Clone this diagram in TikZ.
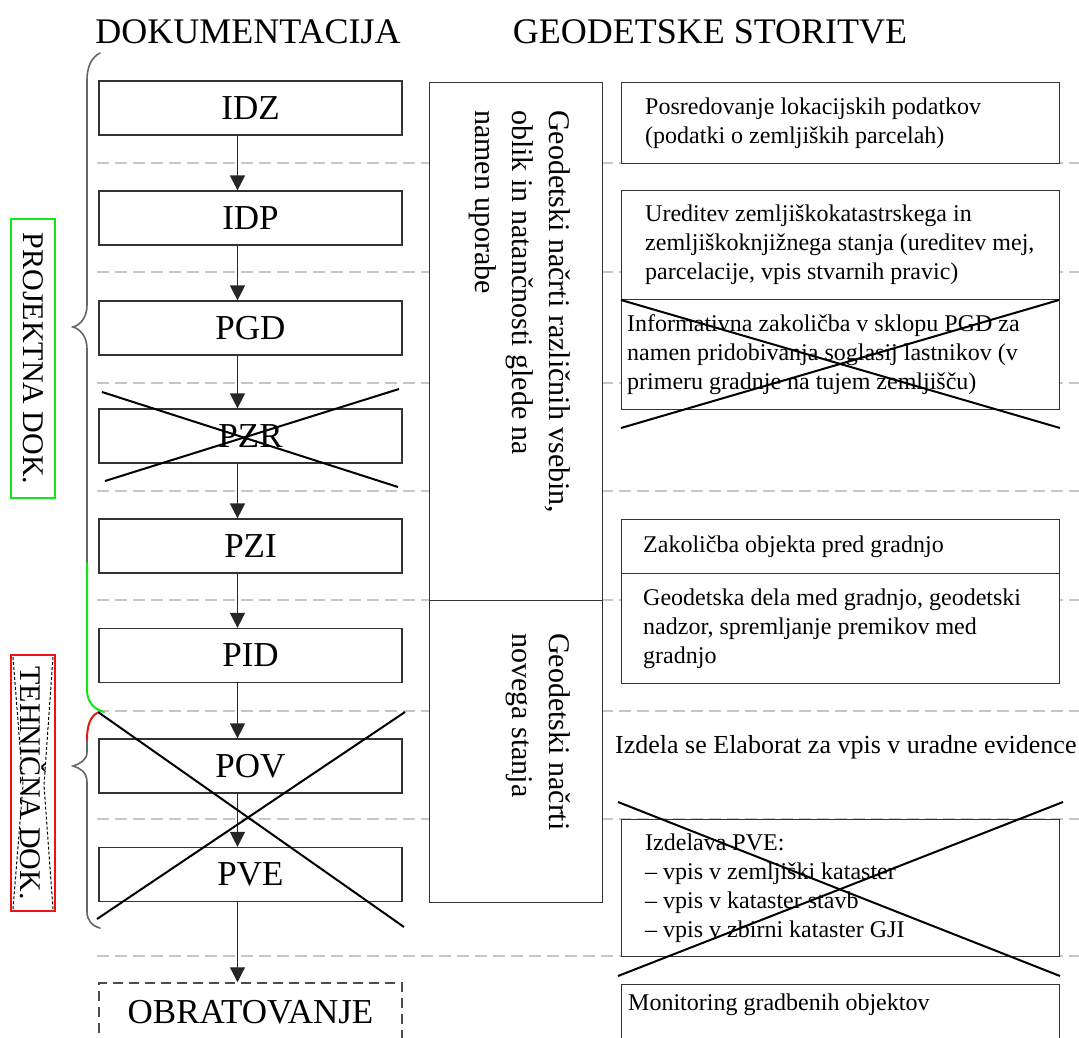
\documentclass[tikz,border=0pt]{standalone}
\usepackage{fontspec}
\setmainfont{Liberation Serif}
\usetikzlibrary{arrows.meta,positioning}
\definecolor{labgreen}{RGB}{20,230,20}
\definecolor{labred}{RGB}{235,20,20}
\newcommand{\stepFont}{\fontsize{35}{40}\selectfont}
\newcommand{\infoFont}{\fontsize{24}{29}\selectfont}
\newcommand{\planFont}{\fontsize{30}{37}\selectfont}

\begin{document}
\begin{tikzpicture}[x=1pt,y=-1pt,
  stepbox/.style={draw=black!80, line width=1.2pt, fill=white, minimum width=303pt, minimum height=54pt, inner sep=0pt, font=\stepFont},
  planbox/.style={draw=black!80, line width=1.2pt, fill=white, minimum width=173pt, inner sep=0pt, anchor=north west},
  infobox/.style={draw=black!80, line width=1.2pt, fill=white, minimum width=438pt, inner sep=0pt, anchor=north west},
  infotext/.style={anchor=west, inner sep=0pt, align=left, font=\infoFont},
  plantext/.style={rotate=-90, anchor=north west, inner sep=0pt, align=left, font=\planFont},
  doklabel/.style={rotate=-90, line width=2pt, minimum height=44pt, inner sep=0pt, font=\fontsize{30}{30}\selectfont},
  flow/.style={-{Triangle[width=15pt,length=15pt]}, line width=1.2pt, black!85},
  sepline/.style={black!22, line width=1.2pt, dash pattern=on 12pt off 6pt},
  strike/.style={line width=2pt, black},
  brace/.style={line width=1.6pt, black!60, line cap=round}]
\useasboundingbox (0,0) rectangle (1079,1037);
\foreach \yy in {163,272,383,491,600,711,819,956}
  \draw[sepline] (97,\yy) -- (1079,\yy);

\node[font=\fontsize{36}{40}\selectfont] (doktitle) at (248,32) {DOKUMENTACIJA};
\node[font=\fontsize{36}{40}\selectfont] (geotitle) at (710,32) {GEODETSKE STORITVE};

\node[stepbox] (idz) at (250.5,108) {IDZ};
\node[stepbox] (idp) at (250.5,218) {IDP};
\node[stepbox] (pgd) at (250.5,328) {PGD};
\node[stepbox] (pzr) at (250.5,436) {PZR};
\node[stepbox] (pzi) at (250.5,546) {PZI};
\node[stepbox] (pid) at (250.5,655.5) {PID};
\node[stepbox] (pov) at (250.5,766) {POV};
\node[stepbox] (pve) at (250.5,874.5) {PVE};
\node[stepbox, draw=black!70, line width=1.5pt, dash pattern=on 10pt off 6pt, minimum height=58pt] (obr) at (250.5,1012) {OBRATOVANJE};
\foreach \a/\b in {idz/idp,idp/pgd,pgd/pzr,pzr/pzi,pzi/pid,pid/pov,pov/pve,pve/obr}
  \draw[flow] ([xshift=-13pt]\a.south) -- ([xshift=-13pt]\b.north);

\node[planbox, minimum height=518pt] (plan) at (429,82) {};
\node[planbox, minimum height=302pt] (novo) at (429,600) {};
\node[plantext] (plantxt) at (571,110) {Geodetski načrti različnih vsebin,\\oblik in natančnosti glede na\\namen uporabe};
\node[plantext] (novotxt) at (571,633) {Geodetski načrti\\novega stanja};

\node[infobox, minimum height=81pt] (posr) at (621,82) {};
\node[infotext] at ([xshift=24pt]posr.west) {Posredovanje lokacijskih podatkov\\(podatki o zemljiških parcelah)};
\node[infobox, minimum height=109pt] (ured) at (621,190) {};
\node[infotext] at ([xshift=24pt]ured.west) {Ureditev zemljiškokatastrskega in\\zemljiškoknjižnega stanja (ureditev mej,\\parcelacije, vpis stvarnih pravic)};
\node[infobox, minimum height=110pt] (infz) at (621,299) {};
\node[infotext] at ([xshift=6pt]infz.west) {Informativna zakoličba v sklopu PGD za\\namen pridobivanja soglasij lastnikov (v\\primeru gradnje na tujem zemljišču)};
\node[infobox, minimum height=54pt] (zako) at (621,519) {};
\node[infotext] at ([xshift=22pt]zako.west) {Zakoličba objekta pred gradnjo};
\node[infobox, minimum height=110pt] (gdel) at (621,573) {};
\node[infotext] at ([xshift=22pt]gdel.west) {Geodetska dela med gradnjo, geodetski\\nadzor, spremljanje premikov med\\gradnjo};
\node[anchor=west, inner sep=0pt, font=\fontsize{26}{30}\selectfont] (elab) at (615,747) {Izdela se Elaborat za vpis v uradne evidence};
\node[infobox, minimum height=137pt] (izpve) at (621,819) {};
\node[infotext] at ([xshift=24pt]izpve.west) {Izdelava PVE:\\– vpis v zemljiški kataster\\– vpis v kataster stavb\\– vpis v zbirni kataster GJI};
\node[infobox, minimum height=70pt] (moni) at (621,984) {};
\node[infotext] at ([xshift=7pt,yshift=-21pt]moni.north west) {Monitoring gradbenih objektov};

\draw[brace] (100,53) .. controls (92,57) and (87,66) .. (87,80) -- (87,305) .. controls (87,318) and (80,325) .. (73,327) .. controls (80,329) and (87,336) .. (87,349) -- (87,563);
\draw[brace, labgreen, line width=2pt] (87,563) -- (87,690) .. controls (87,702) and (94,709) .. (104,712);
\draw[brace, labred, line width=2pt] (97,713) .. controls (90,717) and (87,726) .. (87,740);
\draw[brace] (87,740) -- (87,752) .. controls (87,760) and (80,764) .. (73,766) .. controls (80,768) and (87,772) .. (87,782) -- (87,912) .. controls (87,920) and (92,926) .. (100,928);

\node[doklabel, draw=labgreen, minimum width=279pt] (projlab) at (33,358.5) {PROJEKTNA DOK.};
\node[doklabel, draw=labred, minimum width=256pt] (tehlab) at (33,783) {TEHNIČNA DOK.};
\draw[densely dashed, line width=1pt] (13,657) -- (23,785) -- (13,909);
\draw[densely dashed, line width=1pt] (53,657) -- (44,785) -- (53,909);

\draw[strike] (102,392) -- (398,487);
\draw[strike] (105,481) -- (399,389);
\draw[strike] (98,712) -- (404,927);
\draw[strike] (97,919) -- (405,712);
\draw[strike] (621,300) -- (1060,428);
\draw[strike] (621,428) -- (1059,300);
\draw[strike] (618,802) -- (1060,976);
\draw[strike] (618,976) -- (1063,802);
\end{tikzpicture}
\end{document}
